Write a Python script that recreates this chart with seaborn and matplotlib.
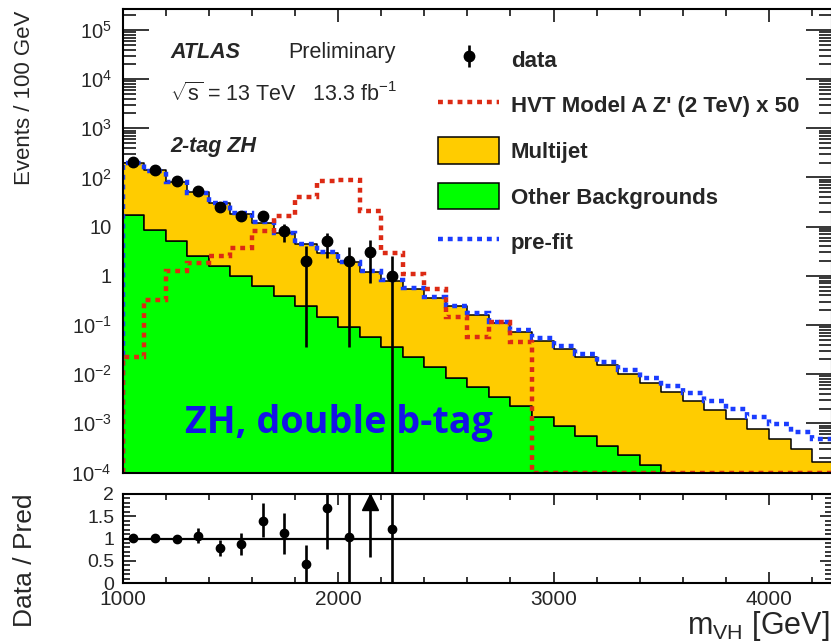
import numpy as np
import pandas as pd
import seaborn as sns
import matplotlib
matplotlib.use("Agg")
import matplotlib.pyplot as plt
from matplotlib.lines import Line2D
from matplotlib.patches import Patch
from matplotlib.ticker import (FuncFormatter, LogLocator, MultipleLocator,
                               NullFormatter, FixedLocator)

sns.set_theme(style="ticks")
plt.rcParams["font.family"] = ["Liberation Sans", "DejaVu Sans"]
plt.rcParams["mathtext.fontset"] = "custom"
plt.rcParams["mathtext.rm"] = "Liberation Sans"
plt.rcParams["mathtext.it"] = "Liberation Sans:italic"
plt.rcParams["mathtext.bf"] = "Liberation Sans:bold"

# ---------------- histogram content (events / 100 GeV) ----------------
bin_edges = np.arange(1000, 4301, 100)
bin_centres = bin_edges[:-1] + 50

multijet = [181, 131.6, 76.5, 47.4, 28.4, 17.4, 11.3, 7.07, 4.21, 2.77,
            1.78, 1.15, 0.755, 0.528, 0.341, 0.2295, 0.1554, 0.1055, 0.0694,
            0.0463, 0.0318, 0.0216, 0.0147, 0.0098, 0.00646, 0.0043, 0.00286,
            0.00188, 0.00121, 0.00077, 0.00047, 0.000296, 0.000166]
other_bkg = [17, 8.4, 5.0, 2.57, 1.6, 1.0, 0.61, 0.38, 0.238, 0.142, 0.089,
             0.056, 0.035, 0.022, 0.0138, 0.0085, 0.0056, 0.0035, 0.0022,
             0.00137, 0.00089, 0.00056, 0.00035, 0.000227, 0.000142,
             0, 0, 0, 0, 0, 0, 0, 0]
prefit = [200, 135, 81, 49, 30, 18.6, 12.2, 7.5, 4.5, 3.0, 1.9, 1.25, 0.82,
          0.565, 0.37, 0.246, 0.175, 0.115, 0.080, 0.054, 0.0377, 0.0255,
          0.0175, 0.012, 0.0083, 0.00586, 0.0041, 0.00282, 0.00194, 0.00137,
          0.00096, 0.00066, 0.00047]
hvt_x50 = [0.0228, 0.326, 1.23, 1.82, 2.56, 3.68, 8.0, 16.7, 39.5, 83.7,
           87.8, 21.2, 2.91, 1.1, 0.55, 0.145, 0.058, 0.115, 0.045,
           0, 0, 0, 0, 0, 0, 0, 0, 0, 0, 0, 0, 0, 0]

data_x = [1050, 1150, 1250, 1350, 1450, 1550, 1650, 1750, 1850, 1950, 2050,
          2150, 2250]
data_events = [204, 145, 84, 52.4, 24.7, 16.2, 16.2, 8.17, 2.0, 5.0, 2.0,
               3.05, 1.0]
data_up = [218, 157, 93, 60, 30.4, 20.5, 20.5, 11.5, 3.97, 7.45, 3.9, 5.26,
           2.57]
data_down = [190, 133, 75, 45, 19.5, 12.8, 12.8, 4.79, 0.035, 2.3, 0.036,
             0.73, 0.0]

ratio = [1.01, 1.02, 0.99, 1.06, 0.79, 0.88, 1.39, 1.12, 0.43, 1.68, 1.04,
         2.5, 1.21]
ratio_up = [1.06, 1.06, 1.05, 1.23, 0.97, 1.12, 1.79, 1.57, 0.85, 2.6, 2.1,
            4.3, 3.3]
ratio_down = [0.96, 0.98, 0.93, 0.89, 0.61, 0.63, 1.03, 0.65, 0.0, 0.76, 0.0,
              0.58, 0.0]

# ---------------- styling ----------------
YELLOW = "#ffcc00"
GREEN = "#00ff00"
RED = "#dc2a14"
BLUE = "#1a3cff"
TEXT_BLUE = "#1414e6"
YMIN, YMAX = 1e-4, 10 ** 5.42
XMIN, XMAX = 1000, 4290

W, H = 831, 643
fig = plt.figure(figsize=(W / 100, H / 100), dpi=100)


def fx(px):
    return px / W


def fy(py):
    return 1 - py / H


left, right = 122.7, 831.5
ax = fig.add_axes([fx(left), fy(472.5), fx(right) - fx(left), fy(9.3) - fy(472.5)])
rax = fig.add_axes([fx(left), fy(583), fx(right) - fx(left), fy(494) - fy(583)])

ax.set_yscale("log")

# stacked backgrounds
n = len(bin_centres)
stack_df = pd.DataFrame({
    "m": np.tile(bin_centres, 2).astype(float),
    "events": np.concatenate([multijet, other_bkg]).astype(float),
    "process": ["Multijet"] * n + ["Other Backgrounds"] * n,
})
sns.histplot(data=stack_df, x="m", weights="events", hue="process",
             hue_order=["Multijet", "Other Backgrounds"],
             palette={"Multijet": YELLOW, "Other Backgrounds": GREEN},
             binwidth=100, binrange=(1000, 4300), multiple="stack",
             element="step", fill=True, alpha=1, edgecolor="black",
             linewidth=1.1, legend=False, ax=ax, zorder=1)

# pre-fit and signal overlays (floored at the axis minimum like a ROOT frame)
dots = (0, (1.1, 1.1))
ax.stairs(np.maximum(prefit, YMIN), bin_edges, baseline=YMIN, fill=False,
          color=BLUE, linewidth=3.2, linestyle=dots, zorder=3)
ax.stairs(np.maximum(hvt_x50, YMIN), bin_edges, baseline=YMIN, fill=False,
          color=RED, linewidth=3.2, linestyle=dots, zorder=4)

# data
dx = np.array(data_x, float)
dy = np.array(data_events, float)
lo = dy - np.maximum(np.array(data_down, float), 1e-9)
hi = np.array(data_up, float) - dy
data_handle = ax.errorbar(dx, dy, yerr=[lo, hi], fmt="o", color="black",
                          ms=7.5, elinewidth=1.9, capsize=0, zorder=6)

ax.set_xlim(XMIN, XMAX)
ax.set_ylim(YMIN, YMAX)
ax.set_xlabel("")
ax.set_ylabel("")


def log_label(v, pos):
    e = int(round(np.log10(v)))
    if e == 0:
        return "1"
    if e == 1:
        return "10"
    return rf"10$^{{{e}}}$"


ax.yaxis.set_major_locator(LogLocator(base=10, numticks=30))
ax.yaxis.set_minor_locator(LogLocator(base=10, subs=np.arange(2, 10), numticks=30))
ax.yaxis.set_major_formatter(FuncFormatter(log_label))
ax.yaxis.set_minor_formatter(NullFormatter())
ax.xaxis.set_major_locator(MultipleLocator(1000))
ax.xaxis.set_minor_locator(MultipleLocator(200))
ax.tick_params(axis="both", which="both", direction="in", top=True,
               right=True, labelbottom=False, width=1.1, color="black")
ax.tick_params(axis="y", which="major", length=19, labelsize=14.5, pad=8)
ax.tick_params(axis="y", which="minor", length=9.5)
ax.tick_params(axis="x", which="major", length=9.5)
ax.tick_params(axis="x", which="minor", length=4.7)
for sp in ax.spines.values():
    sp.set_linewidth(1.5)
    sp.set_color("black")
    sp.set_zorder(7)

# ---------------- ratio panel ----------------
rx = np.array(data_x, float)
ry = np.array(ratio, float)
inside = ry <= 2
rax.axhline(1, color="black", linewidth=1.6, zorder=2)
rax.errorbar(rx[inside], ry[inside],
             yerr=[ry[inside] - np.array(ratio_down)[inside],
                   np.array(ratio_up)[inside] - ry[inside]],
             fmt="o", color="black", ms=6, elinewidth=1.9, capsize=0, zorder=5)
rax.vlines(rx[~inside], np.array(ratio_down)[~inside], 2.0, color="black",
           linewidth=1.9, zorder=5)
rax.plot(rx[~inside], np.full((~inside).sum(), 1.82), marker="^", ms=11,
         color="black", linestyle="none", zorder=6)
rax.set_xlim(XMIN, XMAX)
rax.set_ylim(0, 2)
rax.set_xlabel("")
rax.set_ylabel("")
rax.yaxis.set_major_locator(FixedLocator([0, 0.5, 1, 1.5, 2]))
rax.yaxis.set_minor_locator(MultipleLocator(0.1))
rax.yaxis.set_major_formatter(FuncFormatter(lambda v, p: f"{v:g}"))
rax.xaxis.set_major_locator(MultipleLocator(1000))
rax.xaxis.set_minor_locator(MultipleLocator(200))
rax.tick_params(axis="both", which="both", direction="in", top=True,
                right=True, width=1.1, color="black")
rax.tick_params(axis="y", which="major", length=9, labelsize=14, pad=6)
rax.tick_params(axis="y", which="minor", length=5)
rax.tick_params(axis="x", which="major", length=8, labelsize=15, pad=5)
rax.tick_params(axis="x", which="minor", length=4.3)
for sp in rax.spines.values():
    sp.set_linewidth(1.5)
    sp.set_color("black")

# ---------------- labels and annotations ----------------
fig.text(fx(25), fy(98), "Events / 100 GeV", rotation=90, ha="center",
         va="center", fontsize=16)
fig.text(fx(25), fy(560), "Data / Pred", rotation=90, ha="center",
         va="center", fontsize=19)
fig.text(fx(830), fy(634), r"m$_{\mathrm{VH}}$ [GeV]", ha="right",
         va="baseline", fontsize=22)

fig.text(fx(170), fy(58), "ATLAS", fontsize=15.5, fontweight="bold",
         fontstyle="italic", va="baseline")
fig.text(fx(288), fy(58), "Preliminary", fontsize=15.5, va="baseline")
fig.text(fx(170), fy(101), r"$\sqrt{\mathrm{s}}$ = 13 TeV   13.3 fb$^{\mathrm{-1}}$",
         fontsize=15.5, va="baseline")
fig.text(fx(170), fy(152), "2-tag ZH", fontsize=15.5, fontweight="bold",
         fontstyle="italic", va="baseline")

ax.text(185, fy(433) * H, "ZH, double b-tag", transform=None, fontsize=27.2,
        color=TEXT_BLUE, family=["Open Sans", "DejaVu Sans"],
        fontweight="bold", va="baseline", zorder=5)

handles = [
    data_handle,
    Line2D([], [], color=RED, linewidth=3.2, linestyle=dots),
    Patch(facecolor=YELLOW, edgecolor="black", linewidth=1.1),
    Patch(facecolor=GREEN, edgecolor="black", linewidth=1.1),
    Line2D([], [], color=BLUE, linewidth=3.2, linestyle=dots),
]
labels = ["data", "HVT Model A Z' (2 TeV) x 50", "Multijet",
          "Other Backgrounds", "pre-fit"]
leg = fig.legend(handles, labels, loc="upper left",
                 bbox_to_anchor=(fx(438), fy(46)), frameon=False,
                 prop={"weight": "bold", "size": 16}, handlelength=2.75,
                 handleheight=1.46, labelspacing=0.86, handletextpad=0.52,
                 borderpad=0, borderaxespad=0)

fig.savefig("out.png", dpi=100)
